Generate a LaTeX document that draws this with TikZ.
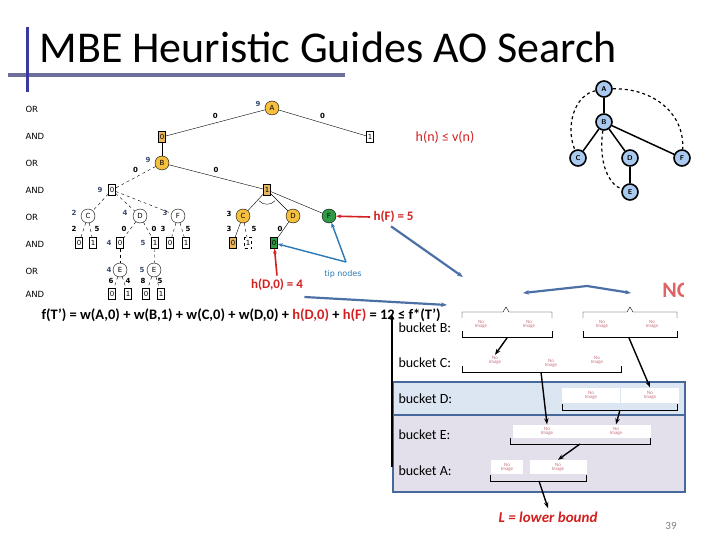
\documentclass[tikz,border=0pt]{standalone}
\usepackage{fontspec}
\setmainfont{Carlito}
\newfontfamily\treefont{DejaVu Sans}
\usetikzlibrary{arrows.meta}
\definecolor{nodeorange}{HTML}{F4C03E}
\definecolor{boxorange}{HTML}{E9B65E}
\definecolor{tipgreen}{HTML}{2E9A48}
\definecolor{hvcol}{HTML}{3C4C6C}
\definecolor{hred}{HTML}{D31F1F}
\definecolor{tipblue}{HTML}{2A78B4}
\definecolor{slate}{HTML}{4C70A6}
\definecolor{gblue}{HTML}{A9C9EE}
\definecolor{bdfill}{HTML}{DCE6F2}
\definecolor{befill}{HTML}{E3E0EC}
\definecolor{frame}{HTML}{46689A}
\definecolor{msgred}{HTML}{C8707E}
\definecolor{titlebar}{HTML}{3A3A9E}
\definecolor{titleline}{HTML}{6E6E9A}

\begin{document}
\begin{tikzpicture}[x=1pt, y=-1pt,
    tf/.style={font=\treefont\fontsize{7}{8}\selectfont},
    orn/.style={circle, draw, fill=nodeorange, minimum size=14pt, inner sep=0pt, tf},
    wcirc/.style={orn, fill=white},
    gcirc/.style={orn, fill=tipgreen},
    abox/.style={rectangle, draw, fill=white, minimum width=7pt, minimum height=11pt, inner sep=0pt, tf},
    obox/.style={abox, fill=boxorange},
    gbox/.style={abox, fill=tipgreen},
    tbox/.style={abox, line width=1.2pt},
    wt/.style={tf, font=\treefont\bfseries\fontsize{7}{8}\selectfont},
    hv/.style={tf, text=hvcol, font=\treefont\bfseries\fontsize{7}{8}\selectfont},
    lev/.style={anchor=west, font=\treefont\fontsize{8.5}{10}\selectfont},
    gnode/.style={circle, draw, line width=1.6pt, fill=gblue, minimum size=16pt, inner sep=0pt, font=\sffamily\bfseries\fontsize{7}{8}\selectfont},
    bucket/.style={anchor=west, font=\fontsize{14}{16}\selectfont},
    msg/.style={fill=white, align=center, inner sep=1pt, text=msgred, font=\fontsize{5}{4}\selectfont},
    redarr/.style={-{Stealth[length=5pt]}, hred, line width=1.6pt},
    tiparr/.style={-{Stealth[length=5pt]}, tipblue, line width=1.4pt},
    slarr/.style={-{Stealth[length=6pt]}, slate, line width=2.2pt},
    blkarr/.style={-{Stealth[length=6pt]}, line width=1.4pt}]
  \useasboundingbox (0,0) rectangle (720,540);

  % title
  \node[anchor=base west, font=\fontsize{44}{46}\selectfont] (title) at (36,63)
        {MBE Heuristic Guides AO Search};
  \draw[titleline, line width=4pt] (8,75) -- (345,75);
  \draw[titlebar, line width=3pt] (27,27) -- (27,92);

  % level labels
  \node[lev] (l1) at (22,109) {OR};
  \node[lev] (l2) at (22,136) {AND};
  \node[lev] (l3) at (22,163) {OR};
  \node[lev] (l4) at (22,190) {AND};
  \node[lev] (l5) at (22,217) {OR};
  \node[lev] (l6) at (22,244) {AND};
  \node[lev] (l7) at (22,271) {OR};
  \node[lev] (l8) at (22,294) {AND};

  % search tree
  \node[orn] (a) at (272,108) {A};
  \node[hv] at (258,104) {9};
  \node[obox] (and0) at (162,137) {0};
  \node[abox] (and1r) at (370,137) {1};
  \draw (a) -- node[wt, above=1pt] {0} (and0);
  \draw (a) -- node[wt, above=1pt] {0} (and1r);
  \node[orn] (b) at (162,163) {B};
  \node[hv] at (148,160) {9};
  \draw (and0) -- (b);
  \node[abox] (and9) at (112,190) {0};
  \node[hv] at (100,190) {9};
  \node[obox] (and1) at (267,190) {1};
  \draw[dashed] (b) -- node[wt, above=1pt] {0} (and9);
  \draw (b) -- node[wt, above=1pt] {0} (and1);

  % left part, dashed
  \node[wcirc] (c1) at (88,216) {C};
  \node[wcirc] (d1) at (140,216) {D};
  \node[wcirc] (f1) at (178,216) {F};
  \node[hv] at (74,213) {2};
  \node[hv] at (125,213) {4};
  \node[hv] at (165,213) {3};
  \foreach \n in {c1,d1,f1}
    \draw[dashed] (and9) -- (\n);
  \node[tbox] (c1b0) at (79,243) {0};
  \node[abox] (c1b1) at (93,243) {1};
  \node[abox] (d1b0) at (120,243) {0};
  \node[abox] (d1b1) at (155,243) {1};
  \node[tbox] (f1b0) at (170,243) {0};
  \node[abox] (f1b1) at (186,243) {1};
  \node[hv] at (109,243) {4};
  \node[hv] at (143,243) {5};
  \draw[dashed] (c1) -- (c1b0); \draw[dashed] (c1) -- (c1b1);
  \draw[dashed] (d1) -- (d1b0); \draw[dashed] (d1) -- (d1b1);
  \draw[dashed] (f1) -- (f1b0); \draw[dashed] (f1) -- (f1b1);
  \node[wt] at (74,229) {2};  \node[wt] at (97,229) {5};
  \node[wt] at (124,229) {0}; \node[wt] at (154,229) {0};
  \node[wt] at (163,229) {3}; \node[wt] at (188,229) {5};
  \node[wcirc] (e1) at (120,270) {E};
  \node[wcirc] (e2) at (154,270) {E};
  \node[hv] at (109,270) {4};
  \node[hv] at (142,270) {5};
  \draw[dashed] (d1b0) -- (e1);
  \draw[dashed] (d1b1) -- (e2);
  \node[tbox] (e1b0) at (112,294) {0};
  \node[abox] (e1b1) at (128,294) {1};
  \node[tbox] (e2b0) at (146,294) {0};
  \node[abox] (e2b1) at (161,294) {1};
  \draw[dashed] (e1) -- (e1b0); \draw[dashed] (e1) -- (e1b1);
  \draw[dashed] (e2) -- (e2b0); \draw[dashed] (e2) -- (e2b1);
  \node[wt] at (111,281) {6}; \node[wt] at (128,281) {4};
  \node[wt] at (143,281) {8}; \node[wt] at (160,281) {5};

  % right part, solution tree
  \node[orn] (c2) at (243,216) {C};
  \node[orn] (d2) at (293,216) {D};
  \node[gcirc] (f2) at (329,216) {F};
  \node[wt] at (229,214) {3};
  \foreach \n in {c2,d2,f2}
    \draw (and1) -- (\n);
  \draw (and1.south) ++(-8,5) to[bend right=50] ++(16,0);
  \node[obox] (c2b0) at (233,243) {0};
  \node[abox, dashed] (c2b1) at (248,243) {1};
  \node[gbox] (d2b0) at (274,243) {0};
  \draw (c2) -- (c2b0);
  \draw[dashed] (c2) -- (c2b1);
  \draw (d2) -- (d2b0);
  \node[wt] at (229,229) {3}; \node[wt] at (254,229) {5};
  \node[wt] at (280,229) {0};

  % annotations
  \node[text=hred, font=\fontsize{14}{16}\selectfont] (hv1) at (445,137) {h(n) ≤ v(n)};
  \node[text=hred, font=\bfseries\fontsize{13}{15}\selectfont, anchor=west] (hf) at (370,217) {h(F) = 5};
  \draw[redarr] (hf.west) -- (f2);
  \node[text=hred, font=\bfseries\fontsize{13}{15}\selectfont] (hd) at (277,285) {h(D,0) = 4};
  \draw[redarr] (hd.north) -- (d2b0);
  \node[text=tipblue, font=\treefont\fontsize{8}{9}\selectfont] (tip) at (343,274) {tip nodes};
  \coordinate (tipv) at (346,262);
  \draw[tiparr] (tipv) -- (d2b0);
  \draw[tiparr] (tipv) -- (f2);

  % small graph
  \node[gnode] (ga) at (604,89) {A};
  \node[gnode] (gb) at (604,122) {B};
  \node[gnode] (gc) at (578,158) {C};
  \node[gnode] (gd) at (630,158) {D};
  \node[gnode] (gf) at (682,158) {F};
  \node[gnode] (ge) at (630,192) {E};
  \draw[line width=1.5pt] (ga) -- (gb);
  \draw[line width=1.5pt] (gb) -- (gc);
  \draw[line width=1.5pt] (gb) -- (gd);
  \draw[line width=1.5pt] (gb) -- (gf);
  \draw[line width=1.5pt] (gd) -- (ge);
  \draw[dashed, line width=1.2pt] (ga) .. controls (575,95) and (565,125) .. (gc);
  \draw[dashed, line width=1.2pt] (ga) .. controls (655,88) and (685,115) .. (gf);
  \draw[dashed, line width=1.2pt] (gb) .. controls (598,165) and (610,185) .. (ge);

  % formula
  \node[font=\bfseries\fontsize{14.5}{16}\selectfont, anchor=west] (fT) at (38,315)
        {f(T’) = w(A,0) + w(B,1) + w(C,0) + w(D,0) + \textcolor{hred}{h(D,0)} + \textcolor{hred}{h(F)} = 12 ≤ f*(T’)};

  % bucket area
  \draw[frame, line width=2.5pt, fill=bdfill] (393,382) rectangle (685,415);
  \draw[frame, line width=2.5pt, fill=befill] (393,415) rectangle (685,492);
  \node[bucket] (bB) at (395,328) {bucket B:};
  \node[bucket] (bC) at (395,363) {bucket C:};
  \node[bucket] (bD) at (395,399) {bucket D:};
  \node[bucket] (bE) at (395,435) {bucket E:};
  \node[bucket] (bA) at (395,471) {bucket A:};
  \coordinate (upend) at (392,467);
  \coordinate (uptop) at (392,314);
  \draw[blkarr] (upend) -- (uptop);

  % bucket B
  \node[msg] (mb1) at (481,324) {No\\Image};
  \node[msg] (mb2) at (529,324) {No\\Image};
  \node[msg] (mb3) at (602,324) {No\\Image};
  \node[msg] (mb4) at (652,324) {No\\Image};
  \draw (462,318) -- (462,312) -- (503,312) -- (506,307) -- (509,312) -- (552,312) -- (552,318);
  \draw (462,331) -- (462,337) -- (552,337) -- (552,331);
  \draw (583,318) -- (583,312) -- (627,312) -- (630,307) -- (633,312) -- (677,312) -- (677,318);
  \draw (583,331) -- (583,337) -- (677,337) -- (677,331);
  \coordinate (gB1) at (507,338);
  \coordinate (gB2) at (629,338);

  % bucket C
  \node[msg] (mc1) at (495,360) {No\\Image};
  \node[msg] (mc2) at (551,363) {No\\Image};
  \node[msg] (mc3) at (597,360) {No\\Image};
  \draw (462,366) -- (462,372) -- (621,372) -- (621,366);
  \coordinate (gC) at (541,372);

  % bucket D
  \node[msg, minimum width=58pt, minimum height=15pt] (md1) at (591,395) {No\\Image};
  \node[msg, minimum width=58pt, minimum height=15pt] (md2) at (650,395) {No\\Image};
  \draw (562,404) -- (562,410) -- (677,410) -- (677,404);
  \coordinate (gD) at (620,410);

  % bucket E
  \node[msg, minimum width=69pt, minimum height=13pt] (me1) at (547,431) {No\\Image};
  \node[msg, minimum width=69pt, minimum height=13pt] (me2) at (616,431) {No\\Image};
  \draw (510,438) -- (510,444) -- (650,444) -- (650,438);
  \coordinate (gE) at (580,444);

  % bucket A
  \node[msg, minimum width=32pt, minimum height=14pt] (ma1) at (507,467) {No\\Image};
  \node[msg, minimum width=57pt, minimum height=14pt] (ma2) at (558,467) {No\\Image};
  \draw (490,475) -- (490,481) -- (586,481) -- (586,475);
  \coordinate (gA) at (539,481);

  \node[text=hred, font=\bfseries\itshape\fontsize{15}{17}\selectfont] (lb) at (548,517) {L = lower bound};
  \node[text=gray, font=\fontsize{11}{13}\selectfont] (pg) at (671,526) {39};

  \draw[blkarr] (gB1) -- (mc1.north);
  \draw[blkarr] (gB2) -- (md2.north);
  \draw[blkarr] (gC) -- (me1.north);
  \draw[blkarr] (gD) -- (me2.north);
  \draw[blkarr] (gE) -- (ma2.north);
  \draw[blkarr] (gA) -- (lb.north);

  % slate arrows
  \coordinate (hfend) at (463,277);
  \coordinate (hdend) at (447,305);
  \draw[slarr] (hf.south east) ++(-26,0) -- (hfend);
  \draw[slarr] (hd.east) ++(-2,12) -- (hdend);
  \coordinate (peak) at (587,286);
  \coordinate (lend) at (523,293);
  \coordinate (rend) at (631,293);
  \draw[slarr, {Stealth[length=6pt]}-{Stealth[length=6pt]}] (lend) -- (peak) -- (rend);
  \begin{scope}
    \clip (650,275) rectangle (683,305);
    \node[text=hred!70, font=\bfseries\fontsize{22}{24}\selectfont] (nobig) at (677,290) {NO};
  \end{scope}
\end{tikzpicture}
\end{document}
